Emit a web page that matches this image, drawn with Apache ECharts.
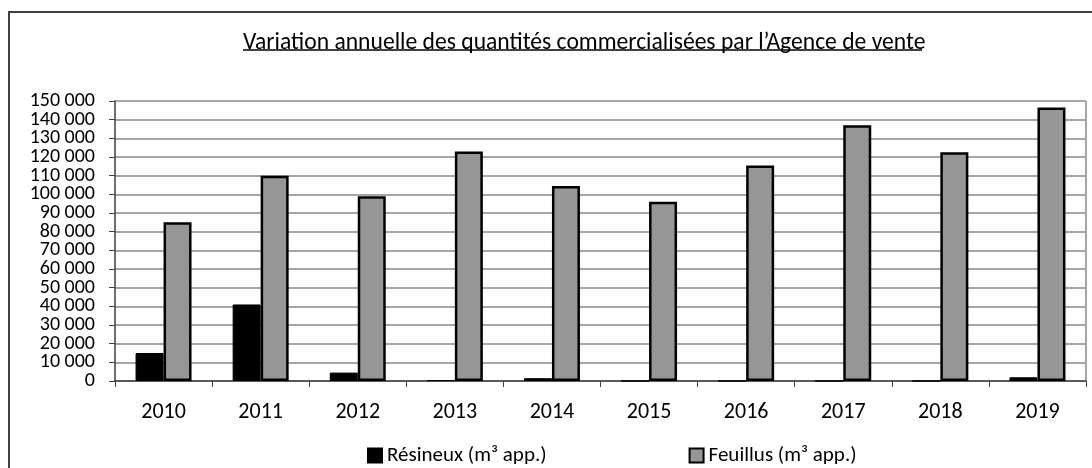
<!DOCTYPE html>
<html>
<head>
<meta charset="utf-8">
<script src="https://cdn.jsdelivr.net/npm/echarts@6/dist/echarts.min.js"></script>
<style>
html, body { margin: 0; padding: 0; background: #fff; }
#main { width: 1092px; height: 468px; }
</style>
</head>
<body>
<div id="main"></div>
<script>
var years = ['2010', '2011', '2012', '2013', '2014', '2015', '2016', '2017', '2018', '2019'];
var resineux = [15000, 41000, 4500, 500, 1500, 0, 0, 0, 0, 2000];
var feuillus = [85000, 110000, 99000, 123000, 104500, 96000, 115500, 137000, 122500, 146500];

var fontFam = 'Carlito, "Open Sans", "Noto Sans", sans-serif';
var yMax = 150000;
var yStep = 10000;

function fmt(v) {
	// séparateur de milliers : espace
	return String(v).replace(/\B(?=(\d{3})+(?!\d))/g, ' ');
}

// les étiquettes sont réparties sur deux axes superposés (paires / impaires)
// pour éviter que ECharts n'en masque à cause du chevauchement
function fmtPair(v) { return (Math.round(v / yStep) % 2 === 0) ? fmt(v) : ''; }
function fmtImpair(v) { return (Math.round(v / yStep) % 2 === 1) ? fmt(v) : ''; }

var myChart = echarts.init(document.getElementById('main'));

var option = {
	animation: false,
	textStyle: { fontFamily: fontFam },
	title: {
		text: 'Variation annuelle des quantités commercialisées par l\u2019Agence de vente',
		left: 238,
		top: 26,
		textStyle: { fontSize: 23.6, fontWeight: 'normal', color: '#000', fontFamily: fontFam }
	},
	graphic: [
		// cadre du graphique (coupé à droite et en bas)
		{ type: 'rect', shape: { x: 9, y: 12, width: 1200, height: 600 },
		  style: { fill: 'none', stroke: '#404040', lineWidth: 2 } },
		// soulignement du titre
		{ type: 'line', shape: { x1: 243, y1: 50, x2: 922, y2: 50 },
		  style: { stroke: '#000', lineWidth: 1.5 } }
	],
	legend: {
		top: 440,
		left: 362,
		itemGap: 142,
		itemWidth: 14,
		itemHeight: 14,
		icon: 'rect',
		textStyle: { fontSize: 21, color: '#000', fontFamily: fontFam },
		data: ['Résineux (m³ app.)', 'Feuillus (m³ app.)']
	},
	grid: { left: 115, right: 6, top: 101, bottom: 87 },
	xAxis: {
		type: 'category',
		data: years,
		axisLine: { lineStyle: { color: '#404040', width: 1.5 } },
		axisTick: { show: true, length: 6, lineStyle: { color: '#404040' } },
		axisLabel: { fontSize: 22, color: '#000', margin: 20 },
		splitLine: { show: false }
	},
	yAxis: [
		{
			type: 'value',
			position: 'left',
			offset: 0,
			min: 0,
			max: yMax,
			interval: yStep,
			axisLine: { show: true, lineStyle: { color: '#404040', width: 1.5 } },
			axisTick: { show: true, length: 6, lineStyle: { color: '#404040' } },
			axisLabel: { fontSize: 20, color: '#000', margin: 20, formatter: fmtPair, showMinLabel: true, showMaxLabel: true },
			splitLine: { show: true, lineStyle: { color: '#a6a6a6', width: 2 } }
		},
		{
			type: 'value',
			position: 'left',
			offset: 0,
			min: 0,
			max: yMax,
			interval: yStep,
			axisLine: { show: false },
			axisTick: { show: false },
			axisLabel: { fontSize: 20, color: '#000', margin: 20, formatter: fmtImpair, showMinLabel: true, showMaxLabel: true },
			splitLine: { show: false }
		}
	],
	series: [
		{
			name: 'Résineux (m³ app.)',
			type: 'bar',
			data: resineux,
			barWidth: 28,
			barGap: '0%',
			itemStyle: { color: '#000', borderColor: '#000', borderWidth: 1 }
		},
		{
			name: 'Feuillus (m³ app.)',
			type: 'bar',
			data: feuillus,
			barWidth: 28,
			itemStyle: { color: '#969696', borderColor: '#000', borderWidth: 2.5 }
		}
	]
};

myChart.setOption(option);

// bordure droite de la zone de tracé
var rect = myChart.getModel().getComponent('grid').coordinateSystem.getRect();
myChart.setOption({
	graphic: option.graphic.concat([
		{ type: 'line', shape: { x1: rect.x + rect.width, y1: rect.y, x2: rect.x + rect.width, y2: rect.y + rect.height },
		  style: { stroke: '#a6a6a6', lineWidth: 2 } }
	])
});
</script>
</body>
</html>
